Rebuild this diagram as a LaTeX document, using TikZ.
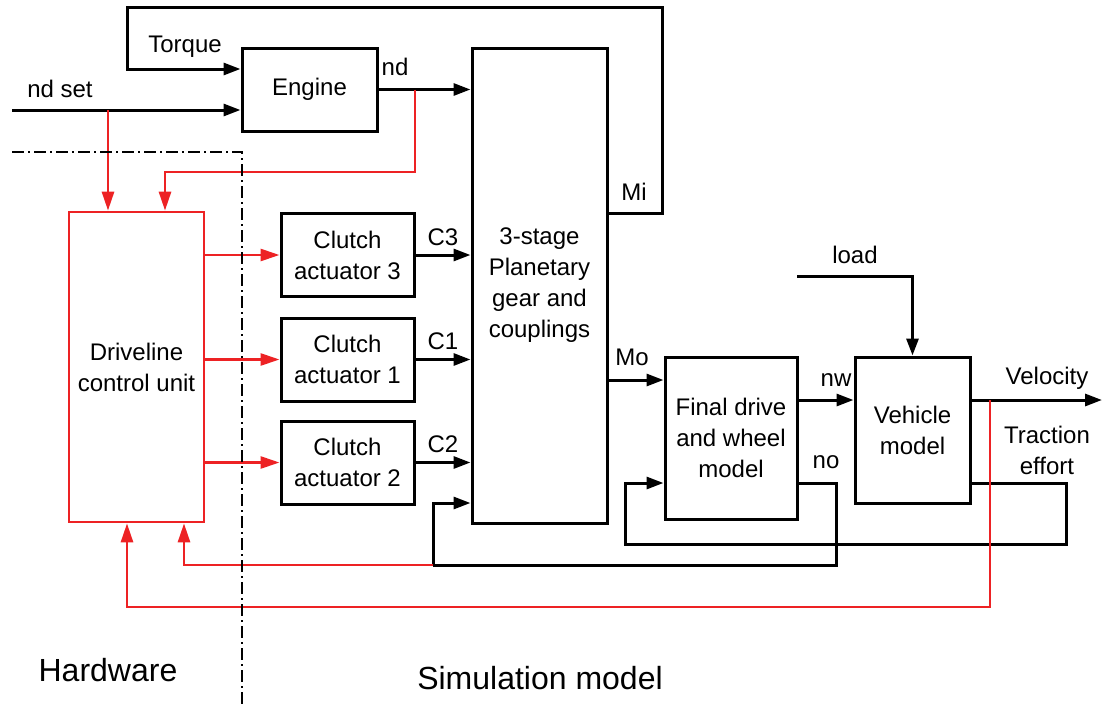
\documentclass[tikz,border=0pt]{standalone}
\usepackage{fontspec}
\setmainfont{Liberation Sans}
\usetikzlibrary{arrows.meta,positioning,calc}
\definecolor{hilred}{RGB}{237,34,36}

\begin{document}
\begin{tikzpicture}[x=1pt,y=-1pt,line width=3pt,
  block/.style={draw, line width=3pt, align=center, inner sep=0pt, font=\fontsize{24}{31}\selectfont},
  lbl/.style={font=\fontsize{24}{31}\selectfont, align=center, inner sep=0pt},
  sig/.style={draw, line width=3pt, -{Triangle[length=17pt,width=12pt]}},
  redsig/.style={draw=hilred, line width=2.7pt, -{Triangle[length=19pt,width=12pt]}}]
\useasboundingbox[fill=white] (0,0) rectangle (1116,704);
% Blocks
\node[block, minimum width=135pt, minimum height=83pt] (engine) at (309.5,89.5) {Engine};
\node[block, draw=hilred, line width=2.7pt, minimum width=135pt, minimum height=310pt] (dcu) at (136.5,367) {Driveline\\control unit};
\foreach \n/\y in {3/255,1/359.5,2/462.5}
  \node[block, minimum width=133pt, minimum height=83pt] (ca\n) at (347.5,\y) {Clutch\\actuator \n};
\node[block, minimum width=135pt, minimum height=475pt] (pg) at (539.5,285.5) {3-stage\\Planetary\\gear and\\couplings};
\node[block, minimum width=132pt, minimum height=162pt] (fd) at (731,438) {Final drive\\and wheel\\model};
\node[block, minimum width=115pt, minimum height=146pt] (veh) at (912.5,430) {Vehicle\\model};
% Free ends and taps
\coordinate (ndin) at (12,110);
\coordinate (ndsettap) at (108,110);
\coordinate (ndtap) at (415,89.5);
\coordinate (mi) at (662,213);
\coordinate (loadin) at (797,276);
\coordinate (velout) at (1102,400);
\coordinate (veltap) at (990,400);
\coordinate (notap) at (433,565);
% Engine in/out
\draw[sig] (ndin) -- (ndin -| engine.west);
\draw[sig] (pg.east |- mi) -- (mi) -- (662,7) -- (127,7) -- (127,69) -- (engine.west |- 0,69);
\draw[sig] (engine.east) -- (engine.east -| pg.west);
% Inputs to the control unit
\draw[redsig] (ndsettap) -- (ndsettap |- dcu.north);
\draw[redsig] (ndtap) -- (415,172) -| ($(dcu.north)+(28.5,0)$);
% Clutch actuators
\foreach \n in {3,1,2} {
  \draw[redsig] (dcu.east |- ca\n.west) -- (ca\n.west);
  \draw[sig] (ca\n.east) -- (ca\n.east -| pg.west) node[lbl, midway, above=8pt] {C\n};
}
% Driveline
\draw[sig] (pg.east |- 0,380) -- (fd.west |- 0,380);
\draw[sig] (fd.east |- 0,400) -- (veh.west |- 0,400);
\draw[sig] (loadin) -| (veh.north);
\draw[sig] (veh.east |- 0,400) -- (velout);
\draw[sig] (veh.east |- 0,483) -| (1066,544) -| (625,483) -- (fd.west |- 0,483);
\draw (fd.east |- 0,483) -| (836,565) -- (notap);
\draw[sig] (notap) |- (pg.west |- 0,503);
% Feedback to the control unit
\draw[redsig] (notap) -| ($(dcu.south)+(47.5,0)$);
\draw[redsig] (veltap) -- (990,607) -| ($(dcu.south)+(-9.5,0)$);
% Labels
\node[lbl] (ndsetlbl) at (60,89) {nd set};
\node[lbl] (torquelbl) at (185,47) {Torque};
\node[lbl] (ndlbl) at (395,67) {nd};
\node[lbl] (milbl) at (634,192) {Mi};
\node[lbl] (molbl) at (632,357) {Mo};
\node[lbl] (nwlbl) at (836,380) {nw};
\node[lbl] (nolbl) at (826,462) {no};
\node[lbl] (loadlbl) at (855,255) {load};
\node[lbl] (vellbl) at (1047,378) {Velocity};
\node[lbl] (trlbl) at (1047,450) {Traction\\effort};
% Hardware / simulation split
\draw[line width=1.3pt, dash pattern=on 12pt off 4pt on 2pt off 4pt] (12,152) -| (242,704);
\node[font=\fontsize{32}{36}\selectfont] (hwlbl) at (108,670) {Hardware};
\node[font=\fontsize{32}{36}\selectfont] (simlbl) at (540,678) {Simulation model};
\end{tikzpicture}
\end{document}
